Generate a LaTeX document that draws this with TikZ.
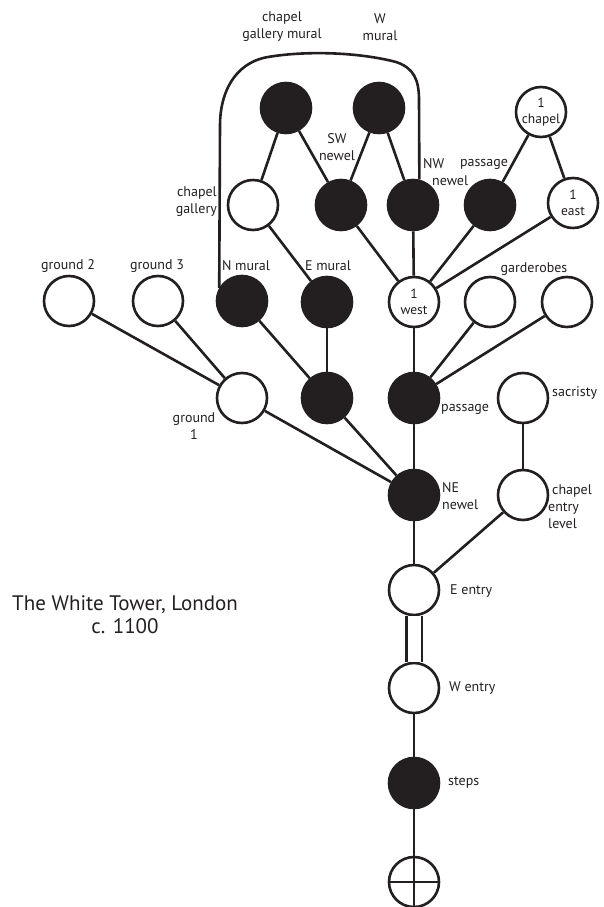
\documentclass[tikz,border=0pt]{standalone}
\usepackage{fontspec}
\setmainfont{PT Sans}
\definecolor{ink}{HTML}{231F20}
\begin{document}
\begin{tikzpicture}[x=1pt,y=-1pt,
  room/.style={circle,draw=ink,line width=2.6pt,minimum size=50pt,inner sep=0pt,
    text=ink,font=\fontsize{13.5}{15.5}\selectfont,align=center},
  open/.style={room,fill=white},
  shut/.style={room,fill=ink},
  lbl/.style={font=\fontsize{14}{17}\selectfont,text=ink,inner sep=0pt},
  link/.style={draw=ink,line width=2.6pt},
  ttl/.style={font=\fontsize{21}{23}\selectfont,text=ink,inner sep=0pt,align=center}]
\useasboundingbox (0,0) rectangle (604,907);
\clip (0,0) rectangle (604,907);

% rooms
\node[shut] (cgm) at (286,108) {};
\node[shut] (wm)  at (379,108) {};
\node[open] (cg)  at (253,205) {};
\node[shut] (sw)  at (341,205) {};
\node[shut] (nw)  at (413,205) {};
\node[shut] (pu)  at (490,205) {};
\node[open] (ch1) at (541,112) {1\\chapel};
\node[open] (e1)  at (573,203) {1\\east};
\node[open] (g2)  at (69,301) {};
\node[open] (g3)  at (158,301) {};
\node[shut] (nm)  at (242,301) {};
\node[shut] (em)  at (327,302) {};
\node[open] (w1)  at (414,302) {1\\west};
\node[open] (gd1) at (490,302) {};
\node[open] (gd2) at (567,302) {};
\node[open] (g1)  at (242,398) {};
\node[shut] (eml) at (327,398) {};
\node[shut] (pl)  at (414,398) {};
\node[open] (sac) at (523,398) {};
\node[shut] (ne)  at (414,495) {};
\node[open] (cel) at (523,495) {};
\node[open] (ee)  at (414,590) {};
\node[open] (we)  at (414,688) {};
\node[shut] (st)  at (414,783) {};
\node[open] (out) at (414,882) {};

% connections
\draw[link] (cgm) -- (cg);
\draw[link] (cgm) -- (sw);
\draw[link] (wm) -- (sw);
\draw[link] (wm) -- (nw);
\draw[link] (cg) -- (em);
\draw[link] (sw) -- (w1);
\draw[link] (nw) -- (w1);
\draw[link] (pu) -- (w1);
\draw[link] (e1) -- (w1);
\draw[link] (ch1) -- (pu);
\draw[link] (ch1) -- (e1);
\draw[link] (w1) -- (pl);
\draw[link] (gd1) -- (pl);
\draw[link] (gd2) -- (pl);
\draw[link] (em) -- (eml);
\draw[link] (nm) -- (eml);
\draw[link] (g2) -- (g1);
\draw[link] (g3) -- (g1);
\draw[link] (g1) -- (ne);
\draw[link] (eml) -- (ne);
\draw[link] (pl) -- (ne);
\draw[link] (sac) -- (cel);
\draw[link] (cel) -- (ee);
\draw[link] (ne) -- (ee);
\draw[link,double=white,double distance=13pt] (ee) -- (we);
\draw[link] (we) -- (st);
\draw[link] (st) -- (out);
\draw[link] (out.west) -- (out.east);
\draw[link] (out.north) -- (out.south);

% loop joining the N mural to the NW newel
\draw[link,line join=round] (nm.150) -- (220,125)
  .. controls (220,95) and (233,63) .. (268,57)
  .. controls (310,50) and (362,53) .. (396,62)
  .. controls (414,68) and (419,80) .. (419,100)
  -- (nw.76);

% labels
\node[lbl,align=center] (tcgm) at (282,27) {chapel\\gallery mural};
\node[lbl,align=center] (twm)  at (380,27) {W\\mural};
\node[lbl,align=center] (tsw)  at (337,147) {SW\\newel};
\node[lbl,align=left,anchor=west] (tnw) at (423,172) {NW\\\hspace*{9pt}newel};
\node[lbl] (tpu) at (484,164) {passage};
\node[lbl,align=right,anchor=east] (tcg) at (217,202) {chapel\\gallery};
\node[lbl] (tg2) at (68,266) {ground 2};
\node[lbl] (tg3) at (157,266) {ground 3};
\node[lbl] (tnm) at (246,266) {N mural};
\node[lbl] (tem) at (328,266) {E mural};
\node[lbl] (tgd) at (534,269) {garderobes};
\node[lbl,align=center] (tg1) at (194,426) {ground\\1};
\node[lbl,anchor=west] (tpl) at (441,409) {passage};
\node[lbl,anchor=west] (tsac) at (552,393) {sacristy};
\node[lbl,align=left,anchor=west] (tne) at (442,496) {NE\\newel};
\node[lbl,align=left,anchor=west] (tcel) at (548,507) {\hspace*{4pt}chapel\\entry\\level};
\node[lbl,anchor=west] (tee) at (450,591) {E entry};
\node[lbl,anchor=west] (twe) at (449,688) {W entry};
\node[lbl,anchor=west] (tst) at (448,783) {steps};

\node[ttl] (title) at (125,615) {The White Tower, London\\c. 1100};
\end{tikzpicture}
\end{document}
